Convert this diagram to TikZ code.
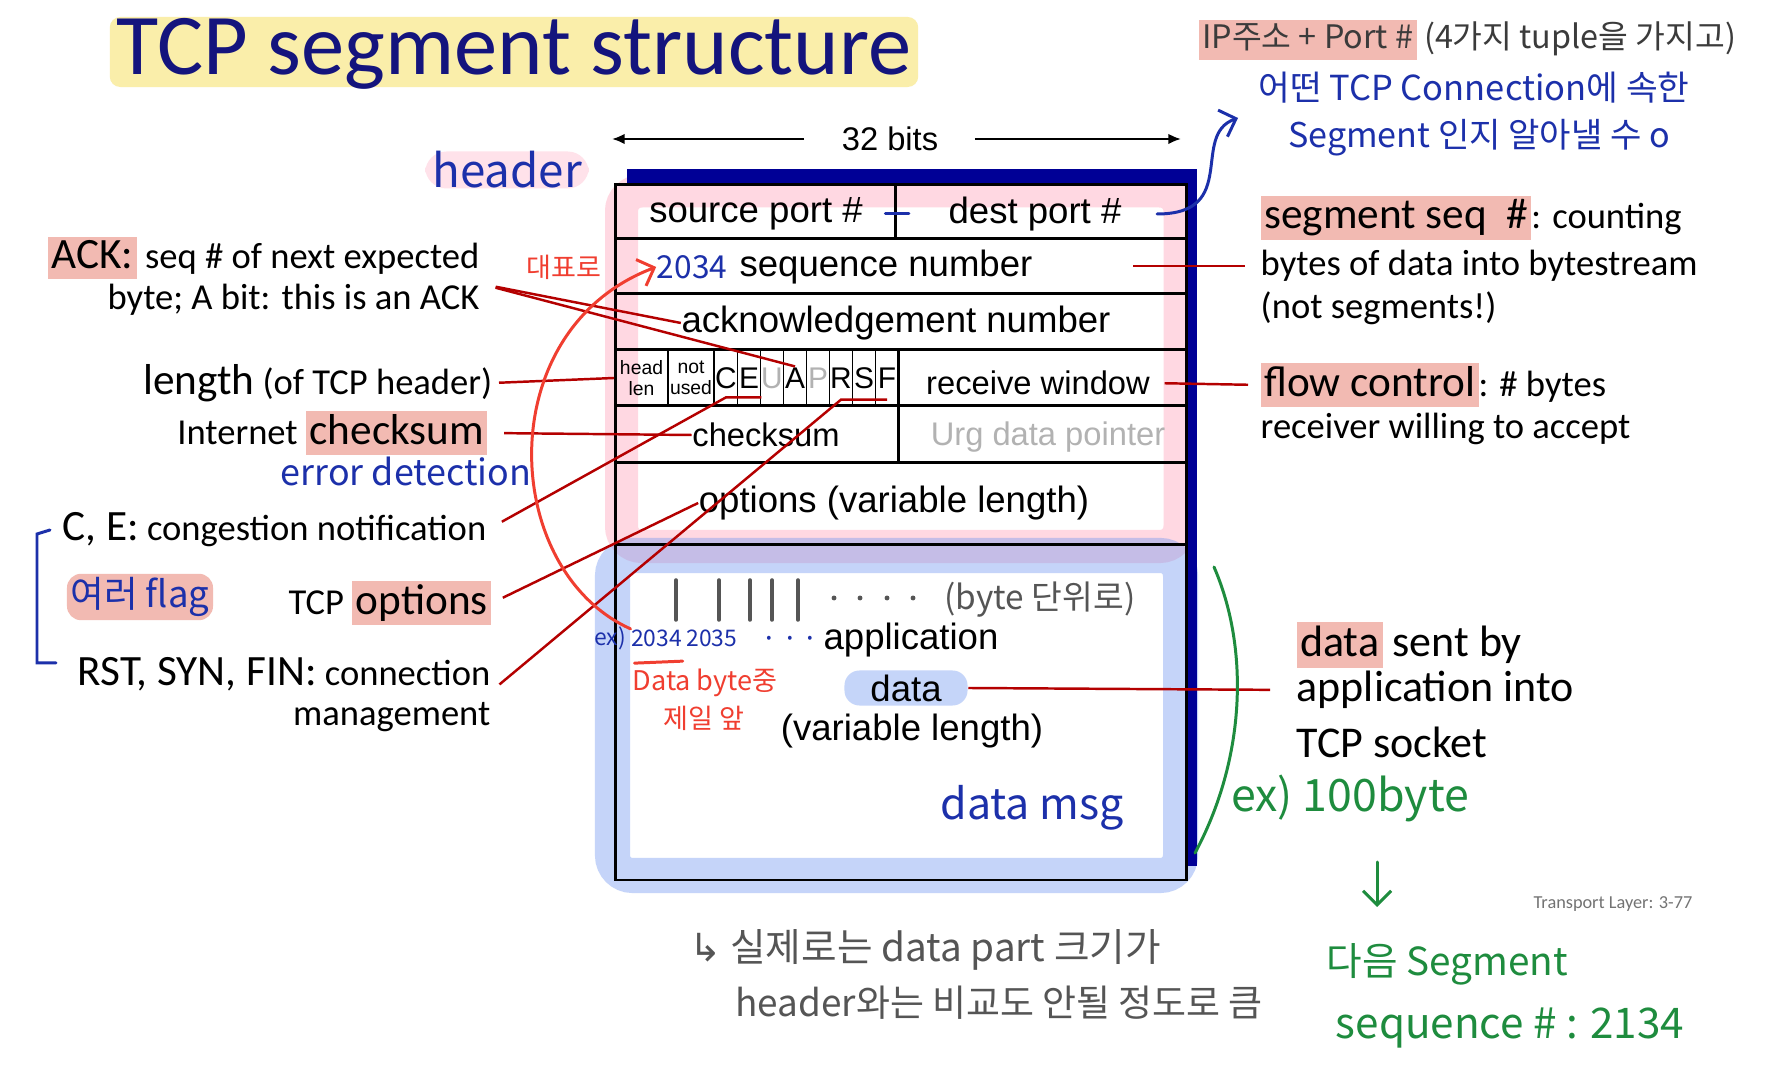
\documentclass[tikz,border=0pt]{standalone}
\usepackage{fontspec}
\setmainfont{Carlito}
\newfontfamily\arialfont{Liberation Sans}
\newfontfamily\handfont{Noto Sans CJK KR}
\newfontfamily\symfont{DejaVu Sans}
\usetikzlibrary{arrows.meta, positioning, calc}

\definecolor{titleblue}{RGB}{20,20,125}
\definecolor{titlebg}{RGB}{250,238,170}
\definecolor{markpink}{RGB}{242,186,178}
\definecolor{hdrpink}{RGB}{255,159,184}
\definecolor{datablue}{RGB}{111,149,240}
\definecolor{shadowblue}{RGB}{0,0,150}
\definecolor{leadred}{RGB}{180,0,0}
\definecolor{penblue}{RGB}{28,48,170}
\definecolor{penred}{RGB}{240,62,48}
\definecolor{pengreen}{RGB}{30,140,62}
\definecolor{pengray}{RGB}{85,85,85}

\newcommand{\mk}[1]{{\setlength{\fboxsep}{1pt}\colorbox{markpink}{\vphantom{Xg}#1}}}
\newcommand{\bigword}[1]{{\fontsize{12.3}{14}\selectfont #1}}

\begin{document}
\begin{tikzpicture}[
    x=0.01cm, y=-0.01cm,
    title/.style={fill=titlebg, rounded corners=3pt, text=titleblue, font=\fontsize{24.6}{28}\selectfont, minimum width=8.08cm, minimum height=0.70cm, inner sep=0, text height=0.55cm, text depth=0.10cm},
    field/.style={font=\arialfont\fontsize{10.4}{12}\selectfont, inner sep=0},
    smallfield/.style={font=\arialfont\fontsize{9.3}{11}\selectfont, inner sep=0},
    flagcell/.style={draw, line width=0.5pt, minimum width=0.23cm, minimum height=0.56cm, inner sep=0, font=\arialfont\fontsize{8.5}{9}\selectfont},
    frame/.style={draw=black, line width=0.85pt},
    note/.style={font=\fontsize{10.4}{12}\selectfont, inner sep=0},
    lnote/.style={note, anchor=east},
    rnote/.style={note, anchor=west},
    bignote/.style={rnote, font=\fontsize{12.5}{15}\selectfont},
    lead/.style={draw=leadred, line width=0.7pt},
    hand/.style={font=\handfont\fontsize{#1}{#1}\selectfont, inner sep=0},
    hand/.default=10,
    pen/.style={line width=0.85pt, line cap=round},
    penarrow/.style={pen, -{Straight Barb[length=4pt,width=8pt]}},
    bitarrow/.style={-{Latex[length=3.6pt,width=3pt]}, line width=0.6pt}
  ]
    \fill[white] (0,0) rectangle (1767,1074);
    \useasboundingbox (0,0) rectangle (1767,1074);

    % Title
    \node[title] (title) at (514,52) {TCP segment structure};

    % header tag and width
    \node[hand=13, text=penblue, fill=hdrpink!30, rounded corners=6pt, inner xsep=2pt, inner ysep=0pt] (hdrtag) at (507,170) {header};
    \node[smallfield] (bits) at (890,139) {32 bits};
    \coordinate (bitsL) at (612,139);
    \coordinate (bitsR) at (1181,139);
    \draw[bitarrow, shorten <=0.37cm] (bits.west) -- (bitsL);
    \draw[bitarrow, shorten <=0.36cm] (bits.east) -- (bitsR);

    % highlight bands (header pink, data blue)
    \draw[line width=0.33cm, draw=hdrpink, draw opacity=0.4, rounded corners=0.2cm] (621.5,191) rectangle (1180,546.5);
    \draw[line width=0.35cm, draw=datablue, draw opacity=0.4, rounded corners=0.2cm] (612.5,555.5) rectangle (1180.5,875.5);

    % shadow of the segment
    \fill[shadowblue] (627,169) rectangle (1197,185);
    \fill[shadowblue] (1186,169) rectangle (1197,866);

    % segment frame
    \draw[frame] (615,185) rectangle (1186,880);
    \foreach \y in {239,294,350,406,463,545}
      \draw[frame] (615,\y) -- (1186,\y);
    \draw[frame] (895,185) -- (895,239);
    \draw[frame] (898,350) -- (898,463);

    % header fields
    \node[field] (srcport) at (756,214) {source port \#};
    \node[field] (dstport) at (1035,214) {dest port \#};
    \node[hand=9, text=penblue] (seq2034) at (692,267) {2034};
    \node[field] (seqnum) at (886,267) {sequence number};
    \node[field] (acknum) at (896,323) {acknowledgement number};
    \node[flagcell, align=center, font=\arialfont\fontsize{5.5}{6}\selectfont, minimum width=0.53cm] (hlen) at (641.5,378) {head\\len};
    \node[flagcell, align=center, font=\arialfont\fontsize{5.5}{6}\selectfont, minimum width=0.46cm] (unused) at (691,378) {not\\used};
    \foreach \lt/\cx/\tc in {C/726/black, E/749/black, U/772/black!30, A/795/black, P/818/black!30, R/841/black, S/864/black, F/887/black}
      \node[flagcell, text=\tc] (f\lt) at (\cx,378) {\lt};
    \node[smallfield] (rwnd) at (1038,383) {receive window};
    \node[smallfield] (cksum) at (766,435) {checksum};
    \node[smallfield, text=black!30] (urgptr) at (1048,437) {Urg data pointer};
    \node[field] (options) at (894,503) {options (variable length)};

    % data part
    \node[field] (apptxt) at (911,640) {application};
    \node[field, fill=datablue!40, rounded corners=0.15cm, minimum width=1.23cm, minimum height=0.35cm] (datatxt) at (906,688) {data};
    \node[field] (varlen) at (912,731) {(variable length)};

    % left notes
    \node[lnote] (acklbl1) at (480,258) {\mk{\bigword{ACK:}} seq \# of next expected};
    \node[lnote] (acklbl2) at (480,300) {byte; A bit: this is an ACK};
    \node[lnote] (lenlbl) at (493,383) {\bigword{length} (of TCP header)};
    \node[lnote] (cklbl) at (488,433) {Internet \mk{\bigword{checksum}}};
    \node[hand=10.2, text=penblue] (errnote) at (406,471) {error detection};
    \node[lnote] (celbl) at (487,530) {\bigword{C, E:} congestion notification};
    \node[hand=10.4, text=penblue, fill=markpink, rounded corners=4pt, inner sep=1pt] (flagnote) at (140,597) {여러 flag};
    \node[lnote] (optlbl) at (492,603) {TCP \mk{\bigword{options}}};
    \node[lnote] (rstlbl1) at (491,674) {\bigword{RST, SYN, FIN:} connection};
    \node[lnote] (rstlbl2) at (491,717) {management};
    \draw[pen, draw=penblue] (50,530) -- (37,534) -- (37,663) -- (56,663);

    % right notes
    \node[rnote] (seqlbl1) at (1260,218) {\mk{\bigword{segment seq\ \ \#}}: counting};
    \node[rnote] (seqlbl2) at (1260,266) {bytes of data into bytestream};
    \node[rnote] (seqlbl3) at (1260,308) {(not segments!)};
    \node[rnote] (flowlbl1) at (1260,385) {\mk{\bigword{flow control}}: \# bytes};
    \node[rnote] (flowlbl2) at (1260,429) {receiver willing to accept};
    \node[bignote] (datalbl1) at (1296,645) {\mk{data} sent by};
    \node[bignote] (datalbl2) at (1296,690) {application into};
    \node[bignote] (datalbl3) at (1296,742) {TCP socket};
    \node[note, text=black!55, font=\fontsize{5.2}{6}\selectfont] (slideno) at (1613,904) {Transport Layer: 3-77};

    % leader lines
    \draw[lead, shorten <=0.16cm] (acklbl2.north east) -- (acknum.west);
    \draw[lead, shorten <=0.16cm] (acklbl2.north east) -- ($(fA.north)!0.3!(fA.south)$);
    \draw[lead, shorten <=0.06cm] (lenlbl.east) -- (hlen.west);
    \draw[lead, shorten <=0.16cm] (cklbl.east) -- (cksum.west);
    \draw[lead, shorten <=0.17cm] (celbl.east) -- ($(fC.center)!0.67!(fC.south)$) -- ($(fE.south east)!0.33!(fE.east)$);
    \draw[lead, shorten <=0.12cm] (optlbl.east) -- (options.west);
    \draw[lead, shorten <=0.11cm] (rstlbl1.south east) -- ($(fR.center)!0.75!(fR.south)$) -- ($(fF.center)!0.75!(fF.south)$);
    \coordinate (seqlead) at (1133,266);
    \draw[lead, shorten >=0.15cm] (seqlead) -- (seqlbl2.west);
    \draw[lead, shorten <=0.14cm, shorten >=0.12cm] (rwnd.east) -- (flowlbl1.west);
    \draw[lead, shorten >=0.26cm] (datatxt.east) -- (datalbl2.west);

    % pen notes: ports
    \node[hand=9.2, text=pengray!70!black, anchor=west] (ipnote1) at (1198,40) {\mk{IP주소 + Port \#} (4가지 tuple을 가지고)};
    \node[hand=9.8, text=penblue] (ipnote2) at (1474,88) {어떤 TCP Connection에 속한};
    \node[hand=9.7, text=penblue] (ipnote3) at (1479,138) {Segment 인지 알아낼 수 o};
    \draw[pen, draw=penblue, shorten <=0.22cm, shorten >=0.39cm] (srcport.east) -- (dstport.west);
    \draw[penarrow, draw=penblue, shorten <=0.35cm] (dstport.east) .. controls (1240,214) and (1190,135) .. (1238,118);

    % pen notes: sequence number
    \node[hand=7.7, text=penred] (daepyo) at (564,267) {대표로};
    \node[hand=6.5, text=penblue] (exmark) at (610,638) {ex)};
    \node[hand=6.5, text=penblue, right=0.04cm of exmark] (ex2034) {2034};
    \node[hand=6.5, text=penblue, right=0.03cm of ex2034] (ex2035) {2035};
    \node[hand=8, text=penblue] (exdots) at (790,642) {·\,·\,·};
    \draw[penarrow, draw=penred] (ex2034.north west) .. controls (500,570) and (490,330) .. (seq2034.west);
    \draw[pen, draw=penred] ($(ex2034.south west)+(4,16)$) -- ($(ex2034.south east)+(0,14)$);
    \node[hand=7.7, text=penred] (databyte) at (705,683) {Data byte중};
    \node[hand=7.7, text=penred] (jeil) at (704,718) {제일 앞};

    % pen notes: byte stream
    \foreach \x in {676,719,750,772,798}
      \draw[pen, draw=pengray, line width=1pt] (\x,580) -- (\x,620);
    \foreach \x in {834,860,887,913}
      \fill[pengray] (\x,598) circle (0.7pt);
    \node[hand=9.5, text=pengray] (byteunit) at (1040,600) {(byte 단위로)};
    \node[hand=12.2, text=penblue] (datamsg) at (1032,808) {data msg};

    % pen notes: next sequence number
    \draw[pen, draw=pengreen] (1214,567) .. controls (1250,650) and (1245,760) .. (1195,853);
    \node[hand=12.7, text=pengreen] (ex100) at (1350,798) {ex) 100byte};
    \coordinate (gtop) at (1377,862);
    \coordinate (gbot) at (1377,907);
    \draw[penarrow, draw=pengreen] (gtop) -- (gbot);
    \node[hand=11, text=pengreen] (nextseg) at (1447,964) {다음 Segment};
    \node[hand=12, text=pengreen] (nextseq) at (1510,1028) {sequence \# : 2134};

    % pen notes: data size
    \node[hand=11, text=pengray] (realnote1) at (925,950) {{\symfont ↳} 실제로는 data part 크기가};
    \node[hand=10.5, text=pengray] (realnote2) at (999,1003) {header와는 비교도 안될 정도로 큼};
  \end{tikzpicture}
\end{document}
